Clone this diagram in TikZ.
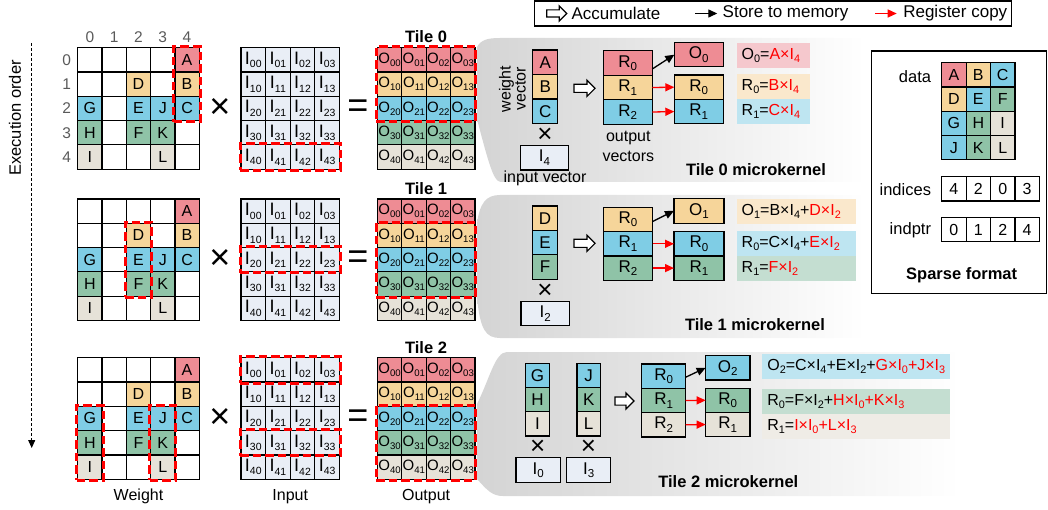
\documentclass[tikz,border=0pt]{standalone}
\usepackage{fontspec}
\setmainfont{Liberation Sans}
\usetikzlibrary{arrows.meta,shapes.arrows,fit}
\definecolor{cA}{RGB}{238,140,148}
\definecolor{cB}{RGB}{246,213,154}
\definecolor{cC}{RGB}{127,205,229}
\definecolor{cD}{RGB}{143,195,167}
\definecolor{cE}{RGB}{230,226,216}
\definecolor{cIn}{RGB}{233,238,246}
\definecolor{lA}{RGB}{245,200,205}
\definecolor{lB}{RGB}{250,232,204}
\definecolor{lC}{RGB}{190,229,241}
\definecolor{lD}{RGB}{196,222,209}
\definecolor{lE}{RGB}{239,236,230}
\definecolor{lblc}{RGB}{90,90,90}
\definecolor{pgray}{RGB}{212,212,212}
\makeatletter
\newcommand\sbs[2][0.68]{\raisebox{-0.2\dimexpr\f@size pt\relax}{\fontsize{\strip@pt\dimexpr #1\dimexpr\f@size pt\relax\relax}{1}\selectfont #2}}
\makeatother
\newcommand\fs[1]{\fontsize{#1}{#1}\selectfont}
\newcommand\rd[1]{\textcolor{red}{#1}}
\newcommand\wmat[2]{%
  \foreach \r in {0,...,4}{\foreach \c in {0,...,4}{
    \node[wcell] (#2-\r-\c) at ({77.7+24.3*(\c+0.5)},{#1+24.3*(\r+0.5)}) {};}}
  \foreach \r/\c/\l/\cl in {0/4/A/cA,1/2/D/cB,1/4/B/cB,2/0/G/cC,2/2/E/cC,2/3/J/cC,2/4/C/cC,3/0/H/cD,3/2/F/cD,3/3/K/cD,4/0/I/cE,4/3/L/cE}{
    \node[wcell,fill=\cl] (#2-\r-\c-v) at (#2-\r-\c) {\l};}
}
\newcommand\imat[2]{%
  \foreach \r in {0,...,4}{\foreach \c in {0,...,3}{
    \node[icell] (#2-\r-\c) at ({241+24.6*(\c+0.5)},{#1+24.3*(\r+0.5)}) {I\sbs[0.58]{\r\c}};}}
}
\newcommand\omat[2]{%
  \foreach \r/\rc in {0/cA,1/cB,2/cC,3/cD,4/cE}{\foreach \c in {0,...,3}{
    \node[ocell,fill=\rc] (#2-\r-\c) at ({377.3+24.4*(\c+0.5)},{#1+24.3*(\r+0.5)}) {O\sbs[0.64]{\r\c}};}}
}
\begin{document}
\begin{tikzpicture}[x=1pt,y=-1pt,
  every node/.style={inner sep=0pt,outer sep=0pt},
  wcell/.style={draw,line width=1.2pt,minimum width=24.3pt,minimum height=24.3pt,font=\fs{16}},
  icell/.style={draw,line width=1.2pt,fill=cIn,minimum width=24.6pt,minimum height=24.3pt,font=\fs{18}},
  ocell/.style={draw,line width=1.2pt,minimum width=24.4pt,minimum height=24.3pt,font=\fs{15}},
  hl/.style={draw=red,line width=3pt,dash pattern=on 8.5pt off 4pt,inner sep=1pt},
  bx/.style={draw,line width=1.2pt,font=\fs{17}},
  txt/.style={font=\fs{16}},
  ttl/.style={font=\bfseries\fs{16.5}},
  axlbl/.style={font=\fs{15.5},text=lblc},
  bigsym/.style={font=\fs{36}},
  mulsym/.style={font=\fs{26}},
  hollowarr/.style={single arrow,draw,line width=1.2pt,fill=white,inner xsep=0pt,inner ysep=3.5pt,single arrow head extend=4pt,minimum height=21pt},
  storearr/.style={-{Triangle[length=9pt,width=8pt]},line width=1.3pt,black},
  copyarr/.style={-{Triangle[length=9pt,width=8pt]},line width=1.3pt,red},
  eqbox/.style={inner xsep=5pt,inner ysep=0pt,minimum height=25pt,anchor=north west,font=\fs{16}},
  panel/.style={left color=pgray,right color=white,draw=none},
  legtxt/.style={anchor=west,font=\fs{17}}
]
\useasboundingbox (0,0) rectangle (1048,510);

% ---------- microkernel panels ----------
\path[panel] (477,47) .. controls (481,40) and (487,38) .. (500,38) -- (865,38) -- (865,182) -- (502,182) .. controls (495,182) and (492,177) .. (477,119) -- cycle;
\path[panel] (477,223) .. controls (480,203) and (486,195) .. (500,195) -- (865,195) -- (865,338) -- (500,338) .. controls (486,338) and (480,330) .. (477,297) -- cycle;
\path[panel] (477,404) .. controls (490,378) and (495,352) .. (507,352) -- (960,352) -- (960,496) -- (503,496) .. controls (492,496) and (487,490) .. (477,479) -- cycle;

% ---------- matrices ----------
\wmat{47.7}{t0w}\imat{47.7}{t0i}\omat{47.7}{t0o}
\wmat{199}{t1w}\imat{199}{t1i}\omat{199}{t1o}
\wmat{357.7}{t2w}\imat{357.7}{t2i}\omat{357.7}{t2o}

\foreach \c in {0,...,4}{\node[axlbl] (col\c) at ({77.7+24.3*(\c+0.5)},36.7) {\c};}
\foreach \r in {0,...,4}{\node[axlbl] (row\r) at (66.7,{47.7+24.3*(\r+0.5)}) {\r};}

\node[bigsym] (t0mul) at (220,108.4) {×};
\node[bigsym] (t0eq) at (358,108.4) {=};
\node[bigsym] (t1mul) at (220,259.7) {×};
\node[bigsym] (t1eq) at (358,259.7) {=};
\node[bigsym] (t2mul) at (220,418.4) {×};
\node[bigsym] (t2eq) at (358,418.4) {=};

\node[ttl] (t0ttl) at (426,37) {Tile 0};
\node[ttl] (t1ttl) at (426,189) {Tile 1};
\node[ttl] (t2ttl) at (426,347.5) {Tile 2};

% highlights
\node[hl,fit=(t0w-0-4)(t0w-2-4)] (t0hw) {};
\node[hl,fit=(t0i-4-0)(t0i-4-3)] (t0hi) {};
\node[hl,fit=(t0o-0-0)(t0o-2-3)] (t0ho) {};
\node[hl,fit=(t1w-1-2)(t1w-3-2)] (t1hw) {};
\node[hl,fit=(t1i-2-0)(t1i-2-3)] (t1hi) {};
\node[hl,fit=(t1o-1-0)(t1o-3-3)] (t1ho) {};
\node[hl,fit=(t2w-2-0)(t2w-4-0)] (t2hw0) {};
\node[hl,fit=(t2w-2-3)(t2w-4-3)] (t2hw3) {};
\node[hl,fit=(t2i-0-0)(t2i-0-3)] (t2hi0) {};
\node[hl,fit=(t2i-3-0)(t2i-3-3)] (t2hi3) {};
\node[hl,fit=(t2o-2-0)(t2o-4-3)] (t2ho) {};

\node[txt] (lw) at (138.5,496.7) {Weight};
\node[txt] (li) at (290.2,496.7) {Input};
\node[txt] (lo) at (426.1,496.7) {Output};

% execution order
\node[rotate=90,font=\fs{16.5}] (eo) at (15,118) {Execution order};
\coordinate (eos) at (31.7,43);
\coordinate (eoe) at (31.7,448);
\draw[line width=1pt,dash pattern=on 3pt off 2pt,-{Triangle[length=8pt,width=7pt]}] (eos) -- (eoe);

% ---------- legend ----------
\node[draw,line width=1.2pt,minimum width=477.4pt,minimum height=25pt] (legbox) at (773,13.5) {};
\node[hollowarr,inner ysep=3pt,minimum height=20pt] (lgacc) at (555,13.5) {};
\node[legtxt] (lgacct) at (571.5,13.5) {Accumulate};
\coordinate (lgs1) at (695,13.5);
\coordinate (lge1) at (717.3,13.5);
\draw[storearr] (lgs1) -- (lge1);
\node[legtxt] (lgst) at (722.7,13.5) {Store to memory};
\coordinate (lgs2) at (875,13.5);
\coordinate (lge2) at (896.7,13.5);
\draw[copyarr] (lgs2) -- (lge2);
\node[legtxt] (lgrc) at (903.3,13.5) {Register copy};

% ---------- tile 0 microkernel ----------
\node[bx,fill=cA,minimum width=25pt,minimum height=24.5pt] (t0a) at (545.2,62.25) {A};
\node[bx,fill=cB,minimum width=25pt,minimum height=24.5pt] (t0b) at (545.2,86.75) {B};
\node[bx,fill=cC,minimum width=25pt,minimum height=24.5pt] (t0c) at (545.2,111.25) {C};
\node[mulsym] (t0x) at (545,135) {×};
\node[bx,fill=cIn,minimum width=47.6pt,minimum height=24.3pt] (t0in) at (544.5,157.8) {I\sbs{4}};
\node[txt] (t0iv) at (545,178.3) {input vector};
\node[rotate=90,align=center,font=\fontsize{16}{15}\selectfont] (t0wv) at (512.5,89) {weight\\vector};
\node[hollowarr] (t0acc) at (582.5,88.3) {};
\node[bx,fill=cA,minimum width=49pt,minimum height=24.5pt] (t0r0) at (627.8,63) {R\sbs{0}};
\node[bx,fill=cB,minimum width=49pt,minimum height=24.5pt] (t0r1) at (627.8,87.5) {R\sbs{1}};
\node[bx,fill=cC,minimum width=49pt,minimum height=24.5pt] (t0r2) at (627.8,112) {R\sbs{2}};
\node[align=center,font=\fontsize{16}{20.7}\selectfont] (t0ov) at (628.3,146.3) {output\\vectors};
\node[bx,fill=cA,minimum width=49pt,minimum height=24pt] (t0out) at (698.8,54.7) {O\sbs{0}};
\node[bx,fill=cB,minimum width=49pt,minimum height=24.4pt] (t0q0) at (698.8,87.2) {R\sbs{0}};
\node[bx,fill=cC,minimum width=49pt,minimum height=24.4pt] (t0q1) at (698.8,111.6) {R\sbs{1}};
\draw[storearr] ([yshift=-6pt]t0r0.east) -- (t0out.west);
\draw[copyarr] (t0r1.east) -- (t0q0.west);
\draw[copyarr] (t0r2.east) -- (t0q1.west);
\node[eqbox,fill=lA] (t0e0) at (736.7,42.7) {\makebox[63.3pt][l]{O\sbs{0}=\rd{A×I\sbs{4}}}};
\node[eqbox,fill=lB] (t0e1) at (736.7,74.3) {\makebox[63.3pt][l]{R\sbs{0}=\rd{B×I\sbs{4}}}};
\node[eqbox,fill=lC] (t0e2) at (736.7,99.3) {\makebox[63.3pt][l]{R\sbs{1}=\rd{C×I\sbs{4}}}};
\node[ttl] (t0lab) at (756,170) {Tile 0 microkernel};

% ---------- tile 1 microkernel ----------
\node[bx,fill=cB,minimum width=24.6pt,minimum height=24.4pt] (t1d) at (545,218.2) {D};
\node[bx,fill=cC,minimum width=24.6pt,minimum height=24.4pt] (t1e) at (545,242.6) {E};
\node[bx,fill=cD,minimum width=24.6pt,minimum height=24.4pt] (t1f) at (545,267) {F};
\node[mulsym] (t1x) at (545,291.7) {×};
\node[bx,fill=cIn,minimum width=48.3pt,minimum height=24pt] (t1in) at (545.2,313.7) {I\sbs{2}};
\node[hollowarr] (t1acc) at (582.5,243.3) {};
\node[bx,fill=cB,minimum width=49.4pt,minimum height=24.3pt] (t1r0) at (628,219.5) {R\sbs{0}};
\node[bx,fill=cC,minimum width=49.4pt,minimum height=24.3pt] (t1r1) at (628,243.8) {R\sbs{1}};
\node[bx,fill=cD,minimum width=49.4pt,minimum height=24.3pt] (t1r2) at (628,268.1) {R\sbs{2}};
\node[bx,fill=cB,minimum width=50pt,minimum height=25pt] (t1out) at (699,210.8) {O\sbs{1}};
\node[bx,fill=cC,minimum width=50pt,minimum height=24.3pt] (t1q0) at (699,243.8) {R\sbs{0}};
\node[bx,fill=cD,minimum width=50pt,minimum height=24.3pt] (t1q1) at (699,268.1) {R\sbs{1}};
\draw[storearr] ([yshift=-2pt]t1r0.east) -- (t1out.west);
\draw[copyarr] (t1r1.east) -- (t1q0.west);
\draw[copyarr] (t1r2.east) -- (t1q1.west);
\node[eqbox,fill=lB] (t1e0) at (736.7,199) {\makebox[109.3pt][l]{O\sbs{1}=B×I\sbs{4}+\rd{D×I\sbs{2}}}};
\node[eqbox,fill=lC] (t1e1) at (736.7,231) {\makebox[109.3pt][l]{R\sbs{0}=C×I\sbs{4}+\rd{E×I\sbs{2}}}};
\node[eqbox,fill=lD] (t1e2) at (736.7,256) {\makebox[109.3pt][l]{R\sbs{1}=\rd{F×I\sbs{2}}}};
\node[ttl] (t1lab) at (755,325) {Tile 1 microkernel};

% ---------- tile 2 microkernel ----------
\node[bx,fill=cC,minimum width=23.5pt,minimum height=24.2pt] (t2g) at (537.5,375.4) {G};
\node[bx,fill=cD,minimum width=23.5pt,minimum height=24.2pt] (t2h) at (537.5,399.6) {H};
\node[bx,fill=cE,minimum width=23.5pt,minimum height=24.2pt] (t2i) at (537.5,423.8) {I};
\node[bx,fill=cC,minimum width=23.5pt,minimum height=24.2pt] (t2j) at (588.7,375.4) {J};
\node[bx,fill=cD,minimum width=23.5pt,minimum height=24.2pt] (t2k) at (588.7,399.6) {K};
\node[bx,fill=cE,minimum width=23.5pt,minimum height=24.2pt] (t2l) at (588.7,423.8) {L};
\node[mulsym] (t2x0) at (537.7,447.3) {×};
\node[mulsym] (t2x3) at (588.5,447.3) {×};
\node[bx,fill=cIn,minimum width=44.7pt,minimum height=25pt] (t2in0) at (538.3,470.2) {I\sbs{0}};
\node[bx,fill=cIn,minimum width=44pt,minimum height=25pt] (t2in3) at (588.7,470.2) {I\sbs{3}};
\node[hollowarr,minimum height=19pt] (t2acc) at (622.5,401) {};
\node[bx,fill=cC,minimum width=44pt,minimum height=24.3pt] (t2r0) at (663.7,376.2) {R\sbs{0}};
\node[bx,fill=cD,minimum width=44pt,minimum height=24.3pt] (t2r1) at (663.7,400.5) {R\sbs{1}};
\node[bx,fill=cE,minimum width=44pt,minimum height=24.3pt] (t2r2) at (663.7,424.8) {R\sbs{2}};
\node[bx,fill=cC,minimum width=44.3pt,minimum height=24.3pt] (t2out) at (727.8,367.8) {O\sbs{2}};
\node[bx,fill=cD,minimum width=44.3pt,minimum height=24.2pt] (t2q0) at (727.8,400.3) {R\sbs{0}};
\node[bx,fill=cE,minimum width=44.3pt,minimum height=24.2pt] (t2q1) at (727.8,424.5) {R\sbs{1}};
\draw[storearr] ([yshift=-1pt]t2r0.east) -- (t2out.west);
\draw[copyarr] (t2r1.east) -- (t2q0.west);
\draw[copyarr] (t2r2.east) -- (t2q1.west);
\node[eqbox,fill=lC] (t2e0) at (762.3,354) {\makebox[177.7pt][l]{O\sbs{2}=C×I\sbs{4}+E×I\sbs{2}+\rd{G×I\sbs{0}+J×I\sbs{3}}}};
\node[eqbox,fill=lD] (t2e1) at (762.3,389) {\makebox[177.7pt][l]{R\sbs{0}=F×I\sbs{2}+\rd{H×I\sbs{0}+K×I\sbs{3}}}};
\node[eqbox,fill=lE] (t2e2) at (762.3,414) {\makebox[177.7pt][l]{R\sbs{1}=\rd{I×I\sbs{0}+L×I\sbs{3}}}};
\node[ttl] (t2lab) at (728.3,481.7) {Tile 2 microkernel};

% ---------- sparse format ----------
\node[draw,line width=1.2pt,minimum width=175pt,minimum height=242.3pt] (spbox) at (959.2,172.2) {};
\foreach \r/\c/\l/\cl in {0/0/A/cA,0/1/B/cB,0/2/C/cC,1/0/D/cB,1/1/E/cC,1/2/F/cD,2/0/G/cC,2/1/H/cD,2/2/I/cE,3/0/J/cC,3/1/K/cD,3/2/L/cE}{
  \node[wcell,fill=\cl,minimum width=24.4pt] (sd-\r-\c) at ({941.7+24.4*(\c+0.5)},{62.7+24.3*(\r+0.5)}) {\l};}
\foreach \c/\v in {0/4,1/2,2/0,3/3}{
  \node[wcell,minimum width=24.4pt] (si-\c) at ({941.7+24.4*(\c+0.5)},188.8) {\v};}
\foreach \c/\v in {0/0,1/1,2/2,3/4}{
  \node[wcell,minimum width=24.4pt] (sp-\c) at ({941.7+24.4*(\c+0.5)},229.5) {\v};}
\node[anchor=east,font=\fs{16.5}] (sdl) at (931,76.7) {data};
\node[anchor=east,font=\fs{16.5}] (sil) at (931,189.3) {indices};
\node[anchor=east,font=\fs{16.5}] (spl) at (931,230) {indptr};
\node[font=\bfseries\fs{16.5}] (splab) at (961.7,275) {Sparse format};
\end{tikzpicture}
\end{document}
